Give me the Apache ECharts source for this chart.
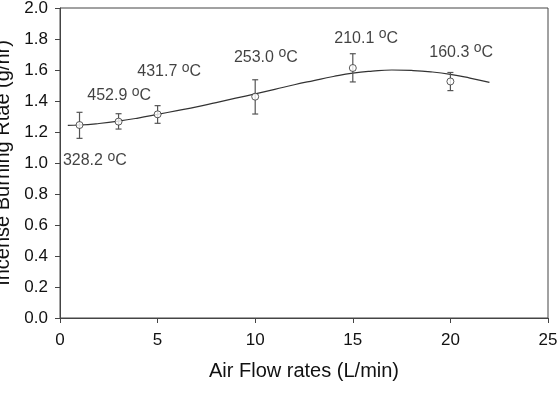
<!DOCTYPE html>
<html>
<head>
<meta charset="utf-8">
<script src="https://cdn.jsdelivr.net/npm/echarts@6/dist/echarts.min.js"></script>
<style>
  html, body { margin: 0; padding: 0; background: #fff; }
  #chart { width: 558px; height: 394px; }
</style>
</head>
<body>
<div id="chart"></div>
<script>
  // measured points (mean + error bar ends)
  const flow = [1, 3, 5, 10, 15, 20]
  const rate = [1.245, 1.267, 1.314, 1.428, 1.613, 1.526]
  const rateHi = [1.327, 1.318, 1.370, 1.537, 1.705, 1.584]
  const rateLo = [1.159, 1.219, 1.256, 1.316, 1.523, 1.467]

  // fitted curve
  const fitX = [0.4, 1, 2, 3, 4, 5, 6, 7, 8, 9, 10, 11, 12, 13, 14, 15, 16, 17, 18, 19, 20, 21, 22]
  const fitY = [1.243, 1.245, 1.255, 1.27, 1.29, 1.314, 1.338, 1.362, 1.39, 1.418, 1.446, 1.475, 1.505, 1.532, 1.558, 1.58, 1.593, 1.6, 1.597, 1.588, 1.572, 1.548, 1.52]

  // temperature notes (left edge / middle, in data units)
  const noteX = [0.15, 1.4, 3.96, 8.91, 14.05, 18.92]
  const noteY = [1.013, 1.432, 1.589, 1.682, 1.805, 1.714]
  const noteTemp = ['328.2', '452.9', '431.7', '253.0', '210.1', '160.3']

  const xTicks = [0, 5, 10, 15, 20, 25]
  const yTicks = [0, 0.2, 0.4, 0.6, 0.8, 1.0, 1.2, 1.4, 1.6, 1.8, 2.0]

  const font = 'Liberation Sans, Arial, sans-serif'
  const ink = '#111'
  const line = '#444'

  const chart = echarts.init(document.getElementById('chart'))

  chart.setOption({
    animation: false,
    textStyle: { fontFamily: font },
    grid: {
      left: 60,
      right: 10,
      top: 8,
      bottom: 76,
      outerBoundsMode: 'none',
      containLabel: false,
      show: true,
      borderColor: line,
      borderWidth: 1
    },
    xAxis: {
      type: 'value',
      min: xTicks[0],
      max: xTicks[xTicks.length - 1],
      interval: 5,
      name: 'Air Flow rates (L/min)',
      nameLocation: 'middle',
      nameGap: 43,
      nameTextStyle: { fontSize: 20, color: ink, fontFamily: font },
      axisLine: { lineStyle: { color: line, width: 1 } },
      axisTick: { show: true, length: 5, lineStyle: { color: line } },
      axisLabel: { fontSize: 17, color: ink, margin: 14, fontFamily: font },
      splitLine: { show: false }
    },
    yAxis: {
      type: 'value',
      min: yTicks[0],
      max: yTicks[yTicks.length - 1],
      interval: 0.2,
      name: 'Incense Burning Rtae (g/hr)',
      nameLocation: 'middle',
      nameGap: 44,
      nameTextStyle: { fontSize: 20, color: ink, fontFamily: font },
      axisLine: { show: true, lineStyle: { color: line, width: 1 } },
      axisTick: { show: true, length: 5, lineStyle: { color: line } },
      axisLabel: {
        fontSize: 17,
        color: ink,
        margin: 12,
        fontFamily: font,
        formatter: v => v.toFixed(1)
      },
      splitLine: { show: false }
    },
    series: [
      {
        name: 'fit',
        type: 'line',
        data: fitX.map((x, i) => [x, fitY[i]]),
        smooth: true,
        showSymbol: false,
        lineStyle: { color: '#333', width: 1.2 },
        z: 2
      },
      {
        name: 'error',
        type: 'custom',
        data: flow.map((x, i) => [x, rateLo[i], rateHi[i]]),
        renderItem: (params, api) => {
          const lo = api.coord([api.value(0), api.value(1)])
          const hi = api.coord([api.value(0), api.value(2)])
          const w = 3
          const style = { stroke: '#555', lineWidth: 1.2 }
          return {
            type: 'group',
            children: [
              { type: 'line', shape: { x1: hi[0], y1: hi[1], x2: lo[0], y2: lo[1] }, style },
              { type: 'line', shape: { x1: hi[0] - w, y1: hi[1], x2: hi[0] + w, y2: hi[1] }, style },
              { type: 'line', shape: { x1: lo[0] - w, y1: lo[1], x2: lo[0] + w, y2: lo[1] }, style }
            ]
          }
        },
        z: 3
      },
      {
        name: 'rate',
        type: 'scatter',
        data: flow.map((x, i) => [x, rate[i]]),
        symbol: 'circle',
        symbolSize: 7,
        itemStyle: { color: '#fff', borderColor: '#333', borderWidth: 1 },
        z: 4
      },
      {
        name: 'temp',
        type: 'scatter',
        data: noteX.map((x, i) => [x, noteY[i], noteTemp[i]]),
        symbolSize: 0,
        silent: true,
        label: {
          show: true,
          position: 'right',
          distance: 0,
          formatter: p => `{a|${p.value[2]} }{s|o}{a|C}`,
          rich: {
            a: { fontSize: 16, color: ink, fontFamily: font, lineHeight: 22 },
            s: { fontSize: 14, color: ink, fontFamily: font, lineHeight: 10, verticalAlign: 'top' }
          }
        },
        z: 5
      }
    ]
  })
</script>
</body>
</html>
